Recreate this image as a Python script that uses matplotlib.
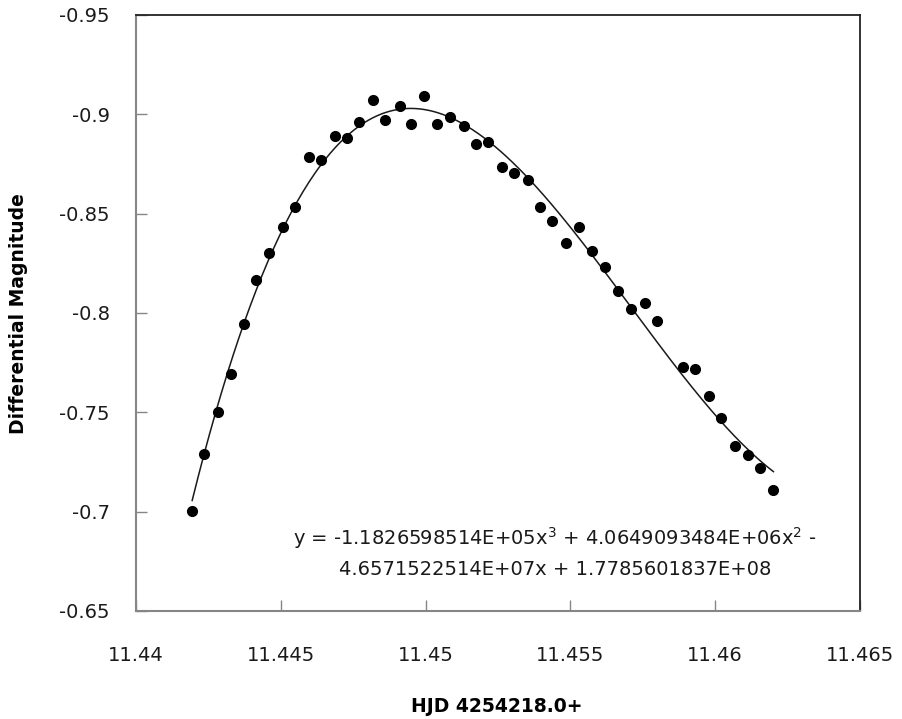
import numpy as np
import matplotlib
matplotlib.use("Agg")
import matplotlib.pyplot as plt

hjd = [11.44194, 11.44236, 11.44282, 11.44327, 11.44374, 11.44416, 11.44459,
       11.44506, 11.44548, 11.44596, 11.44639, 11.44688, 11.44729, 11.44771,
       11.44820, 11.44861, 11.44910, 11.44951, 11.44993, 11.45041, 11.45083,
       11.45132, 11.45174, 11.45215, 11.45263, 11.45306, 11.45353, 11.45396,
       11.45438, 11.45486, 11.45529, 11.45575, 11.45619, 11.45666, 11.45708,
       11.45756, 11.45799, 11.45889, 11.45930, 11.45980, 11.46021, 11.46069,
       11.46112, 11.46153, 11.46201]
mag = [-0.7005, -0.729, -0.750, -0.7694, -0.7946, -0.8168, -0.8301,
       -0.8434, -0.8535, -0.8786, -0.8768, -0.8889, -0.8879, -0.896,
       -0.9071, -0.897, -0.9042, -0.895, -0.9093, -0.895, -0.8988,
       -0.8939, -0.8849, -0.886, -0.8736, -0.8705, -0.8668, -0.8535,
       -0.8463, -0.8352, -0.8434, -0.831, -0.823, -0.8111, -0.8019,
       -0.8051, -0.796, -0.7726, -0.7716, -0.7584, -0.7473, -0.7332,
       -0.7283, -0.7219, -0.711]

x_ticks = [11.44, 11.445, 11.45, 11.455, 11.46, 11.465]
x_labels = ["11.44", "11.445", "11.45", "11.455", "11.46", "11.465"]
y_ticks = [-0.95, -0.9, -0.85, -0.8, -0.75, -0.7, -0.65]
y_labels = ["-0.95", "-0.9", "-0.85", "-0.8", "-0.75", "-0.7", "-0.65"]

eq_text = ("y = -1.1826598514E+05x$^3$ + 4.0649093484E+06x$^2$ -\n"
           "4.6571522514E+07x + 1.7785601837E+08")

plt.rcParams['font.family'] = ['DejaVu Sans']
plt.rcParams['mathtext.fontset'] = 'dejavusans'

fig = plt.figure(figsize=(9.03, 7.19), dpi=100)
ax = fig.add_axes([136/903, 1 - 611/719, 724/903, 596/719])

x = np.array(hjd)
y = np.array(mag)

# cubic trendline, fitted on centred x to keep it stable
x0 = x.mean()
coef = np.polyfit(x - x0, y, 3)
xf = np.linspace(x.min(), x.max(), 300)
ax.plot(xf, np.polyval(coef, xf - x0), color='#1a1a1a', lw=1.1, zorder=2)

ax.plot(x, y, 'o', color='black', markersize=7, zorder=3)

ax.set_xlim(11.44, 11.465)
ax.set_ylim(-0.65, -0.95)
ax.set_xticks(x_ticks)
ax.set_xticklabels(x_labels)
ax.set_yticks(y_ticks)
ax.set_yticklabels(y_labels)
ax.tick_params(direction='in', length=8, width=1, color='#868686',
               labelsize=14, labelcolor='#1a1a1a')
ax.tick_params(axis='x', pad=25)
ax.tick_params(axis='y', pad=19)

for side in ['left', 'bottom']:
    ax.spines[side].set_color('#868686')
    ax.spines[side].set_linewidth(1.5)
for side in ['top', 'right']:
    ax.spines[side].set_color('#222222')
    ax.spines[side].set_linewidth(1.3)

fig.text(555/903, 1 - 552/719, eq_text, ha='center', va='center',
         fontsize=14, color='#1a1a1a', linespacing=1.55)

fig.text(497/903, 1 - 707/719, "HJD 4254218.0+", ha='center', va='center',
         fontsize=13.5, fontweight='bold')
fig.text(19/903, 1 - 314/719, "Differential Magnitude", ha='center',
         va='center', rotation=90, fontsize=13.5, fontweight='bold')

fig.savefig("out.png", dpi=100)
